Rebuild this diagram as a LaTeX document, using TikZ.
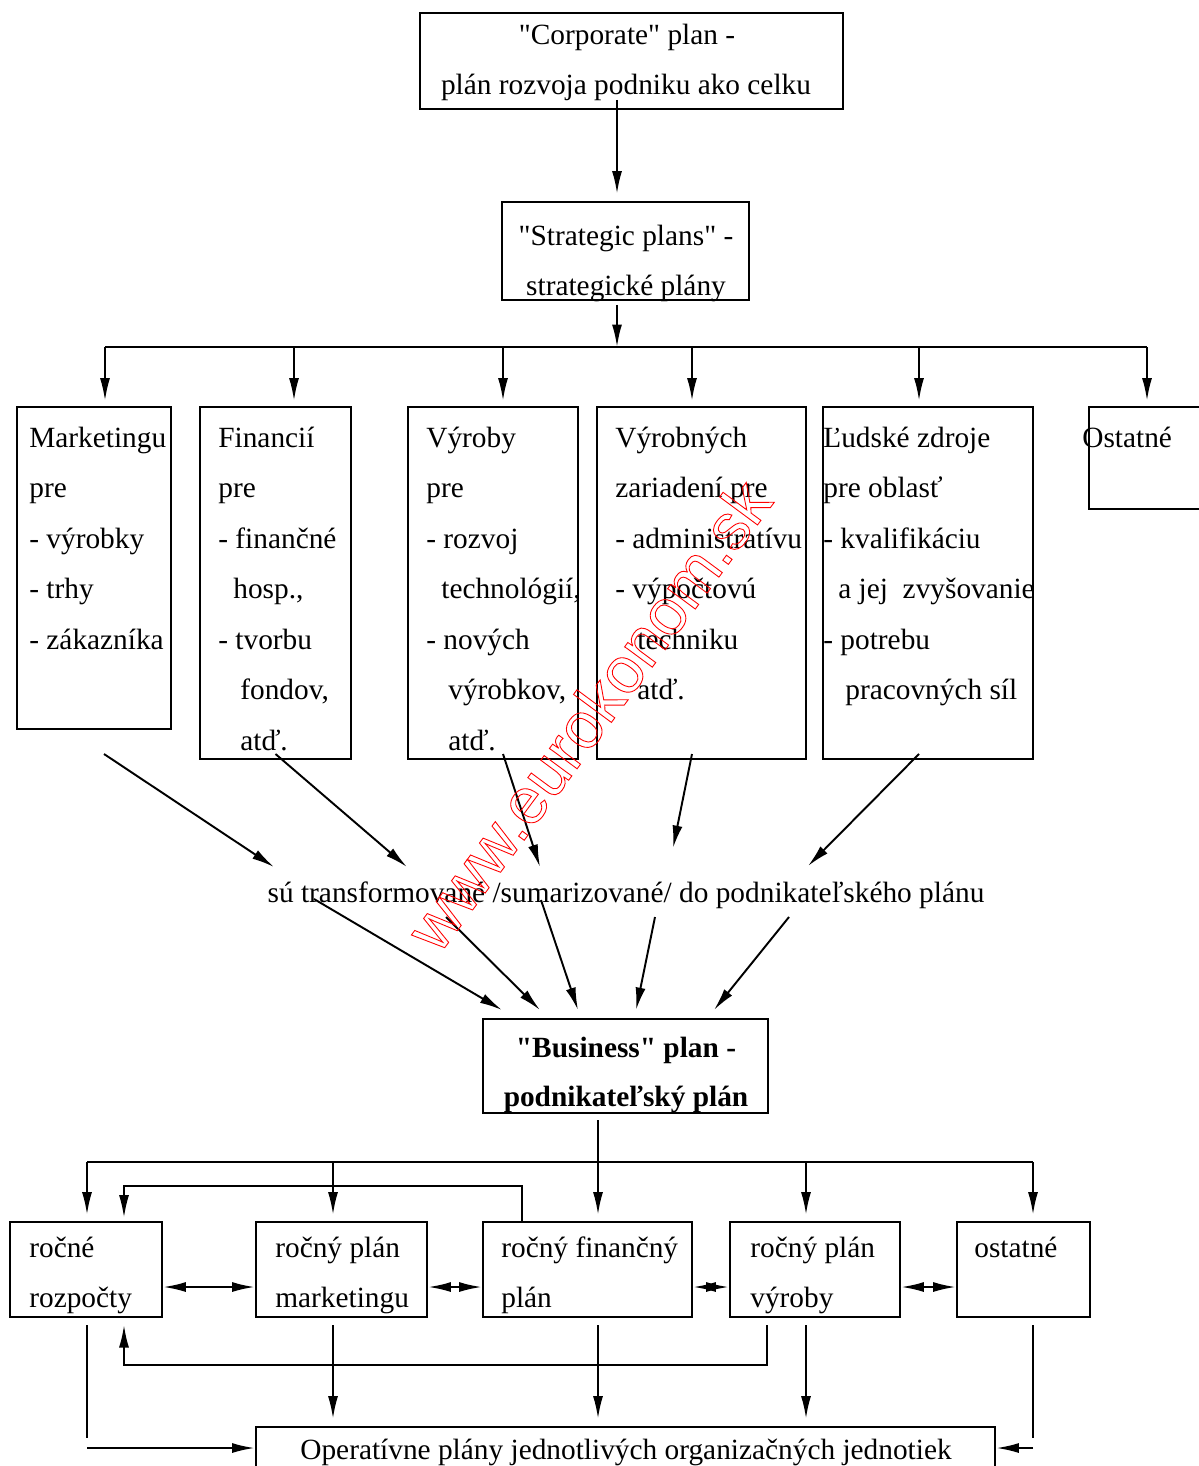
\documentclass[tikz,border=0pt]{standalone}
\usepackage{fontspec}
\setmainfont{Liberation Serif}[Ligatures=TeXOff]
\newfontfamily\wmfont{Liberation Sans}[Ligatures=TeXOff]
\usetikzlibrary{arrows.meta,fit}

\tikzset{
  box/.style={draw, line width=1.6pt, inner sep=0pt},
  txt/.style={anchor=base west, inner sep=0pt, font=\fontsize{16.7}{20}\selectfont},
  ctxt/.style={txt, anchor=base},
  wire/.style={line width=1.1pt},
  link/.style={wire, -{Latex[length=4.5mm,width=2mm]}},
  twoway/.style={wire, {Latex[length=4.5mm,width=2mm]}-{Latex[length=4.5mm,width=2mm]}},
}
\newcommand{\hollow}[1]{\special{pdf:code 1 Tr 0.5 w 1 0 0 RG}#1\special{pdf:code 0 Tr 0 0 0 RG}}

\begin{document}
\begin{tikzpicture}[x=0.02cm,y=-0.02cm]
\useasboundingbox (0,0) rectangle (1198,1466);

% top levels
\node[box, fit={(420,13) (843,109)}] (corp) {};
\node[ctxt] (corp-1) at (627,45) {"Corporate" plan -};
\node[ctxt] (corp-2) at (626,95) {plán rozvoja podniku ako celku};

\node[box, fit={(502,202) (749,300)}] (strat) {};
\node[ctxt] (strat-1) at (626,246) {"Strategic plans" -};
\node[ctxt] (strat-2) at (626,296) {strategické plány};

\draw[link, shorten >=1.4mm] (617,100) -- (617,100 |- strat.north);
\draw[link] (617,305) -- (617,347);

% functional plans
\node[box, fit={(17,407) (171,729)}] (mk) {};
\node[box, fit={(200,407) (351,759)}] (fin) {};
\node[box, fit={(408,407) (578,759)}] (vyr) {};
\node[box, fit={(597,407) (806,759)}] (zar) {};
\node[box, fit={(823,407) (1033,759)}] (lud) {};
\node[box, fit={(1089,407) (1215,509)}] (ost) {};

\draw[wire] (105,347) -- (1147,347);
\foreach \x/\n in {105/mk, 294/fin, 503/vyr, 692/zar, 919/lud, 1147/ost}
  \draw[link, shorten >=1mm] (\x,347) -- (\x,347 |- \n.north);

\foreach \x/\t [count=\i from 0] in {29/Marketingu, 29/pre, 29/- výrobky, 29/- trhy, 29/- zákazníka}
  \node[txt] (mk-\i) at (\x,{447+50.5*\i}) {\t};
\foreach \x/\t [count=\i from 0] in {218/Financií, 218/pre, 218/- finančné, {233/hosp.,}, 218/- tvorbu, {240/fondov,}, 240/atď.}
  \node[txt] (fin-\i) at (\x,{447+50.5*\i}) {\t};
\foreach \x/\t [count=\i from 0] in {426/Výroby, 426/pre, 426/- rozvoj, {441/technológií,}, 426/- nových, {448/výrobkov,}, 448/atď.}
  \node[txt] (vyr-\i) at (\x,{447+50.5*\i}) {\t};
\foreach \x/\t [count=\i from 0] in {615/Výrobných, 615/zariadení pre, 615/- administratívu, 615/- výpočtovú, 637/techniku, 637/atď.}
  \node[txt] (zar-\i) at (\x,{447+50.5*\i}) {\t};
\foreach \x/\t [count=\i from 0] in {823/Ľudské zdroje, 823/pre oblasť, 823/- kvalifikáciu, 838/a jej~ zvyšovanie, 823/- potrebu, 845/pracovných síl}
  \node[txt] (lud-\i) at (\x,{447+50.5*\i}) {\t};
\node[txt] (ost-0) at (1082,447) {Ostatné};

% summary line
\node[ctxt] (sum) at (626,902) {sú transformované /sumarizované/ do podnikateľského plánu};

\draw[link] ([xshift=0.2cm]mk.south |- 0,754) -- (274,867);
\draw[link] (fin.south |- 0,754) -- (407,867);
\draw[link] (503,754) -- (540,867);
\draw[link] (692,754) -- (673,848);
\draw[link] (919,754) -- (808,866);

\node[box, fit={(483,1019) (768,1113)}] (bus) {};
\node[ctxt, font=\fontsize{16.7}{20}\selectfont\bfseries] (bus-1) at (626,1057) {"Business" plan -};
\node[ctxt, font=\fontsize{16.7}{20}\selectfont\bfseries] (bus-2) at (626,1106) {podnikateľský plán};

\draw[link] (314,899) -- (502,1010);
\draw[link] (446,917) -- (540,1010);
\draw[link] (541,900) -- (578,1010);
\draw[link] (655,917) -- (636,1010);
\draw[link] (789,917) -- (714,1010);

% annual plans
\node[box, fit={(10,1222) (162,1317)}] (rr) {};
\node[box, fit={(256,1222) (427,1317)}] (rm) {};
\node[box, fit={(483,1222) (692,1317)}] (rf) {};
\node[box, fit={(730,1222) (900,1317)}] (rv) {};
\node[box, fit={(957,1222) (1090,1317)}] (ro) {};

\node[txt] (rr-1) at (29,1257) {ročné};
\node[txt] (rr-2) at (29,1307) {rozpočty};
\node[txt] (rm-1) at (275,1257) {ročný plán};
\node[txt] (rm-2) at (275,1307) {marketingu};
\node[txt] (rf-1) at (501,1257) {ročný finančný};
\node[txt] (rf-2) at (501,1307) {plán};
\node[txt] (rv-1) at (750,1257) {ročný plán};
\node[txt] (rv-2) at (750,1307) {výroby};
\node[txt] (ro-1) at (974,1257) {ostatné};

\draw[link, shorten >=1.2mm] (598,1120) -- (598,1120 |- rf.north);
\draw[wire] (87,1162) -- (1033,1162);
\foreach \x/\n in {87/rr, 333/rm, 806/rv, 1033/ro}
  \draw[link, shorten >=1.2mm] (\x,1162) -- (\x,1162 |- \n.north);
\draw[link, shorten >=0.6mm] (522,1186 |- rf.north) -- (522,1186) -- (124,1186) -- (124,1186 |- rr.north);

\draw[twoway] (rr.east |- 0,1287) -- (rm.west |- 0,1287);
\draw[twoway] (rm.east |- 0,1287) -- (rf.west |- 0,1287);
\draw[twoway] (rf.east |- 0,1287) -- (rv.west |- 0,1287);
\draw[twoway] (rv.east |- 0,1287) -- (ro.west |- 0,1287);

\draw[link] (767,1325) -- (767,1365) -- (124,1365) -- (124,1325);

\node[box, fit={(256,1427) (995,1472)}] (oper) {};
\node[ctxt] (oper-1) at (626,1459) {Operatívne plány jednotlivých organizačných jednotiek};

\foreach \x in {333, 598, 806}
  \draw[link, shorten >=1.4mm] (\x,1325) -- (\x,1325 |- oper.north);
\draw[wire] (87,1325) -- (87,1438);
\draw[link] (87,1448) -- (oper.west |- 0,1448);
\draw[wire] (1033,1325) -- (1033,1438);
\draw[link] (1033,1448) -- (oper.east |- 0,1448);

% watermark
\node[rotate=53.5, inner sep=0pt, text=red] (wm) at (588,715)
  {\wmfont\fontsize{37}{40}\selectfont\hollow{www.eurokonom.sk}};
\end{tikzpicture}
\end{document}
